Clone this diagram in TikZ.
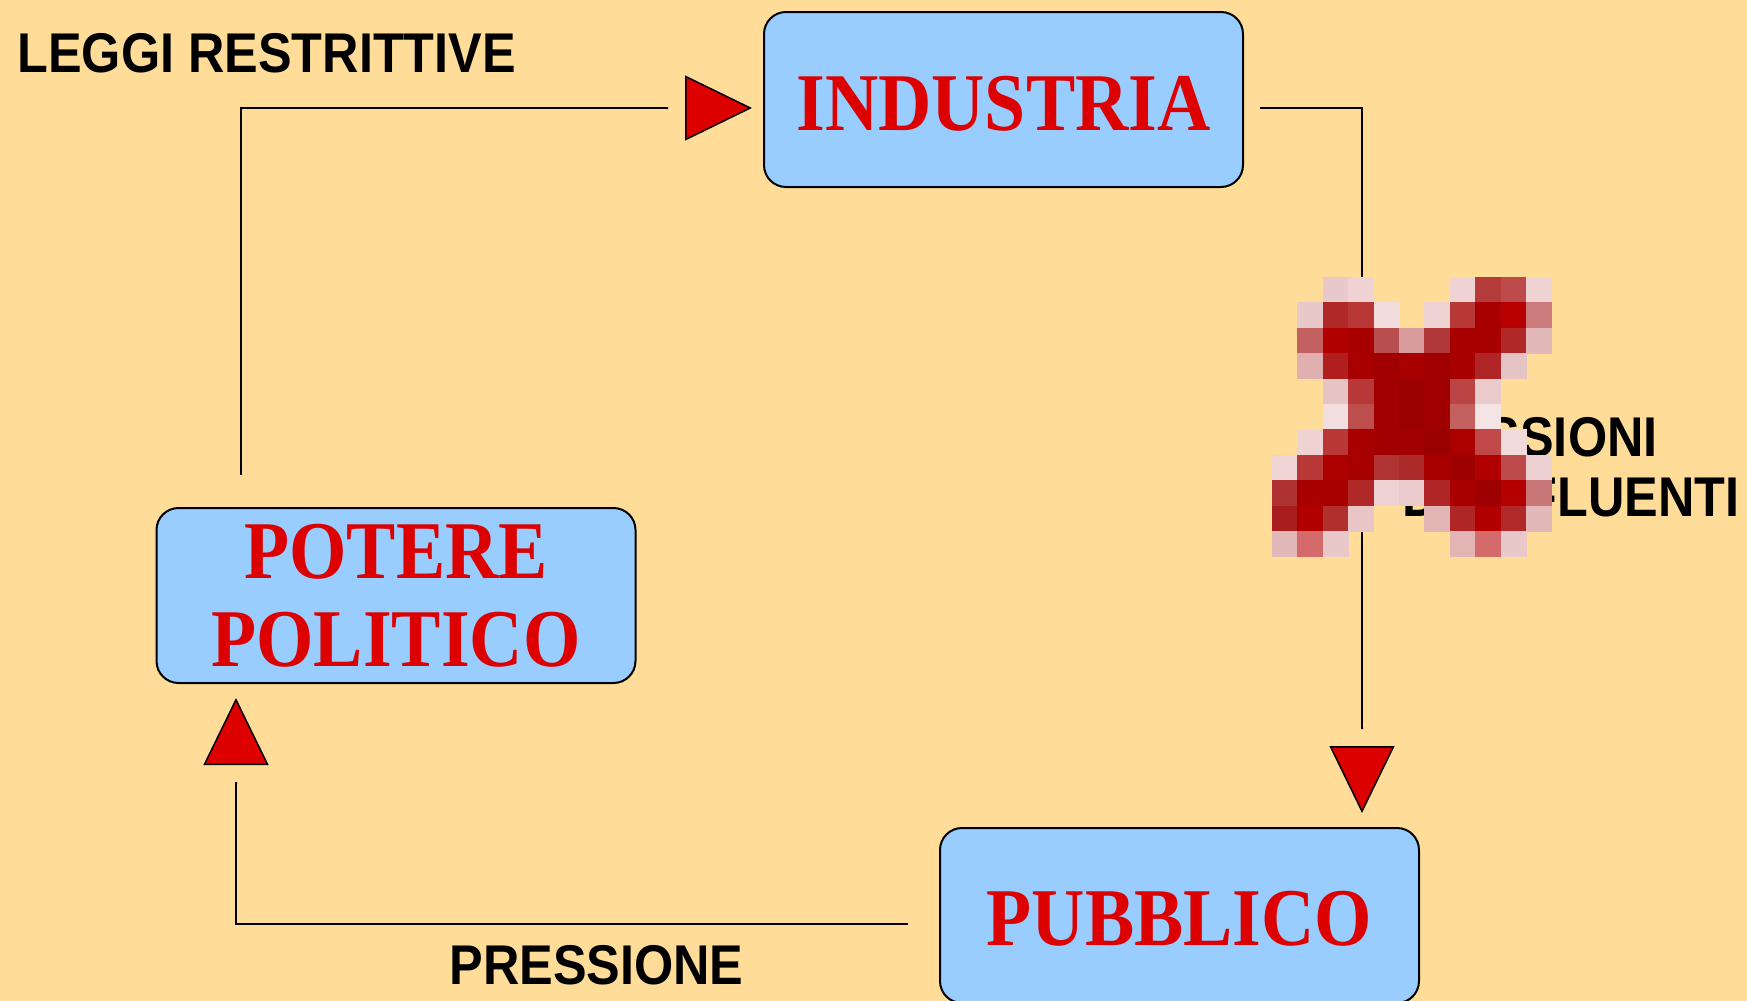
\documentclass[tikz,border=0pt]{standalone}
\usepackage{fontspec}
\usepackage{tikz}
\usetikzlibrary{arrows.meta,calc}
\newfontfamily\boxfont[FakeStretch=0.9]{Liberation Serif}
\newfontfamily\tagfont[FakeStretch=0.9]{Liberation Sans}
\definecolor{sfondo}{HTML}{FFDD99}
\definecolor{azzurro}{HTML}{99CCFF}
\definecolor{rosso}{HTML}{DD0000}

\begin{document}
\begin{tikzpicture}[x=0.5pt, y=-0.5pt,
  box/.style={draw, line width=1pt, fill=azzurro, rounded corners=11pt,
    minimum width=239.5pt, minimum height=87.5pt, align=center, text=rosso,
    font=\boxfont\bfseries\fontsize{41}{44}\selectfont},
  tag/.style={inner sep=0pt, font=\tagfont\bfseries\fontsize{28}{30}\selectfont},
  link/.style={line width=1pt, shorten >=7pt,
    -{Butt Cap[sep=8.5pt] . Triangle[length=33.5pt, width=32.5pt, fill=rosso, line width=0.75pt]}}]
  \fill[sfondo] (0,0) rectangle (1747,1001);
  \useasboundingbox (0,0) rectangle (1747,1001);

  \node[box, text height=31pt] (ind) at (1003.5,99.5) {INDUSTRIA};
  \node[box] (pot) at (396,595.5) {POTERE\\POLITICO};
  \node[box, text height=30pt] (pub) at (1179.5,915.5) {PUBBLICO};

  \draw[link, shorten >=5.5pt] ([xshift=-77.5pt,yshift=16pt]pot.north) |- ([yshift=-4.25pt]ind.west);
  \draw[link] ([xshift=8pt,yshift=-4.25pt]ind.east) -| ([xshift=91.25pt]pub.north);
  \draw[link] ([xshift=-15.5pt,yshift=-4.25pt]pub.west) -| ([xshift=-80pt]pot.south);

  \node[tag, anchor=west] (leggi) at (17,53) {LEGGI RESTRITTIVE};
  \node[tag, anchor=west] (press) at (449,965) {PRESSIONE};
  \node[tag, anchor=east] (pressi) at (1658,437) {PRESSIONI};
  \node[tag, anchor=east] (infl) at (1740,498) {DI\hspace{12pt}INFLUENTI};

  % mosaico sopra la scritta
  \foreach \r/\riga in {
    0/{2/E8C8C8,3/EFD3D3,7/EFD3D3,8/B53A3A,9/BD4A4A,10/EFD3D3},
    1/{1/E8C8C8,2/B02828,3/B83838,4/F2DCDC,6/EFD3D3,7/B83838,8/A80000,9/B80000,10/CB7B7B},
    2/{1/C56060,2/B00000,3/A80000,4/B84E4E,5/D89C9C,6/B03838,7/A80000,8/A80000,9/B02828,10/E3B8B8},
    3/{1/E0B0B0,2/B01E1E,3/A80000,4/A00000,5/A80000,6/A00000,7/A80000,8/B02525,9/E6C4C4},
    4/{2/E6C4C4,3/B83838,4/A00000,5/9A0000,6/A00000,7/BA4444,8/EACACA},
    5/{2/F2DEDE,3/BC4E4E,4/A00000,5/9A0000,6/A00000,7/C46060,8/F4E4E4},
    6/{1/EFD3D3,2/B83838,3/A80000,4/A20000,5/A20000,6/9A0000,7/AC0000,8/C04848,9/F0DADA},
    7/{0/EED4D4,1/B83838,2/AC0000,3/A80000,4/B03434,5/AC2A2A,6/A80000,7/9E0000,8/B00000,9/BC4A4A,10/EDD0D0},
    8/{0/B03333,1/A80000,2/A80000,3/B02828,4/EFD3D3,5/EACACA,6/B02525,7/A80000,8/9C0000,9/B40000,10/C87676},
    9/{0/A81E1E,1/B00000,2/B03030,3/E8C6C6,6/E3B4B4,7/B02525,8/B00000,9/B02A2A,10/E3B8B8},
    10/{0/E2B8B8,1/D46A6A,2/E8C8C8,7/E3B4B4,8/D46A6A,9/E8C8C8}}
    \foreach \c/\tinta in \riga {
      \definecolor{tassello}{HTML}{\tinta}
      \fill[tassello] ({1272+25.4*\c},{277+25.4*\r}) rectangle ++(25.9,25.9);
    };
\end{tikzpicture}
\end{document}
